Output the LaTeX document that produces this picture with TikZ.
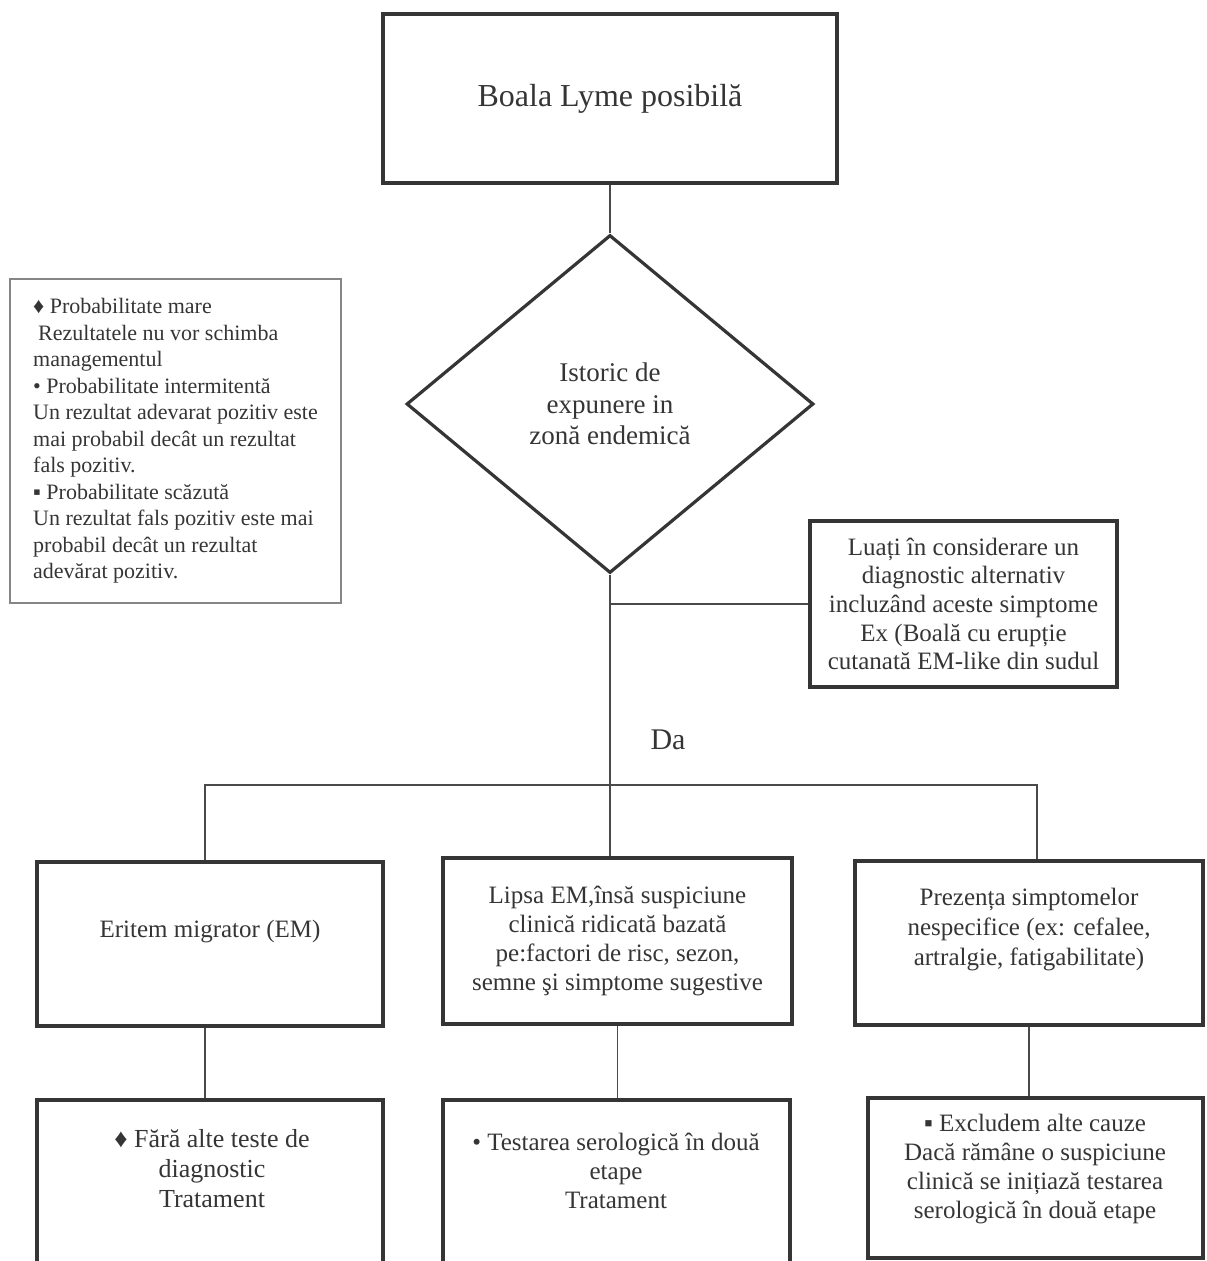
\documentclass[tikz,border=0pt]{standalone}
\usepackage{fontspec}
\setmainfont{Liberation Serif}
\usepackage{xcolor}
\usepackage{tikz}
\usetikzlibrary{shapes.geometric}
\definecolor{ink}{HTML}{353535}
\definecolor{wire}{HTML}{4A4A4A}
\tikzset{
  box/.style={draw=ink, line width=1.7pt, text=ink, align=center, inner sep=0pt},
  txt/.style={text=ink, align=center, inner sep=0pt},
  link/.style={draw=wire, line width=0.8pt},
  sz/.style 2 args={font=\fontsize{#1}{#2}\selectfont},
}

\begin{document}
\begin{tikzpicture}[x=0.5pt, y=-0.5pt]
\useasboundingbox (0,0) rectangle (1206,1261);
\clip (0,0) rectangle (1206,1261);
%
\node[box, sz={16}{18.4}, minimum width=227pt, minimum height=84.5pt] (lyme) at (610,98.5) {Boala Lyme posibilă};
\node[box, shape=diamond, sz={13.5}{15.7}, line width=1.6pt, minimum width=203.5pt, minimum height=169pt] (expo) at (610,404) {Istoric de\\expunere in\\zonă endemică};
\node[box, sz={12.5}{14.3}, minimum width=153.5pt, minimum height=83pt] (alt) at (963.5,604) {Luați în considerare un\\diagnostic alternativ\\incluzând aceste simptome\\Ex (Boală cu erupție\\cutanată EM-like din sudul};
\node[draw=ink!60, line width=0.7pt, text=ink, sz={11}{13.25}, align=left, minimum width=165.5pt, minimum height=162pt] (legend) at (175.5,441)
  {♦ Probabilitate mare\\
   \hspace*{2.5pt}Rezultatele nu vor schimba\\
   managementul\\
   • Probabilitate intermitentă\\
   Un rezultat adevarat pozitiv este\\
   mai probabil decât un rezultat\\
   fals pozitiv.\\
   ▪ Probabilitate scăzută\\
   Un rezultat fals pozitiv este mai\\
   probabil decât un rezultat\\
   adevărat pozitiv.};
\node[txt, sz={15}{17}] (da) at (668,740) {Da};
%
\node[box, minimum width=173pt, minimum height=82pt] (em) at (210,944) {};
\node[txt, sz={12.5}{14.5}] (em-t) at (210,932) {Eritem migrator (EM)};
\node[box, sz={12.5}{14.5}, minimum width=174.5pt, minimum height=83pt] (lipsa) at (617.5,941) {Lipsa EM,însă suspiciune\\clinică ridicată bazată\\pe:factori de risc, sezon,\\semne şi simptome sugestive};
\node[box, minimum width=174pt, minimum height=82pt] (simpt) at (1029,943) {};
\node[txt, sz={12.5}{15}] (simpt-t) at (1029,930) {Prezența simptomelor\\nespecifice (ex: cefalee,\\artralgie, fatigabilitate)};
%
\node[box, minimum width=173pt, minimum height=110pt] (trt1) at (210,1210) {};
\node[txt, sz={13}{15}] (trt1-t) at (212,1169) {♦ Fără alte teste de\\diagnostic\\Tratament};
\node[box, minimum width=173.5pt, minimum height=110pt] (trt2) at (616.5,1210) {};
\node[txt, sz={12.5}{14.5}] (trt2-t) at (616,1171) {• Testarea serologică în două\\etape\\Tratament};
\node[box, minimum width=167.5pt, minimum height=80pt] (trt3) at (1035.5,1178) {};
\node[txt, sz={12.5}{14.5}] (trt3-t) at (1035,1169) {▪ Excludem alte cauze\\Dacă rămâne o suspiciune\\clinică se inițiază testarea\\serologică în două etape};
%
\coordinate (bus) at (610,785);
\draw[link] (lyme) -- (expo);
\draw[link] (expo.south) -- (expo.south |- lipsa.north);
\draw[link] (expo.south |- alt.west) -- (alt.west);
\draw[link] ([xshift=-2.5pt]em.north) |- (bus) -| ([xshift=4pt]simpt.north);
\draw[link] ([xshift=-2.5pt]em.south) -- ([xshift=-2.5pt]em.south |- trt1.north);
\draw[link] (lipsa.south) -- (lipsa.south |- trt2.north);
\draw[link] (simpt.south) -- (simpt.south |- trt3.north);
\end{tikzpicture}
\end{document}
